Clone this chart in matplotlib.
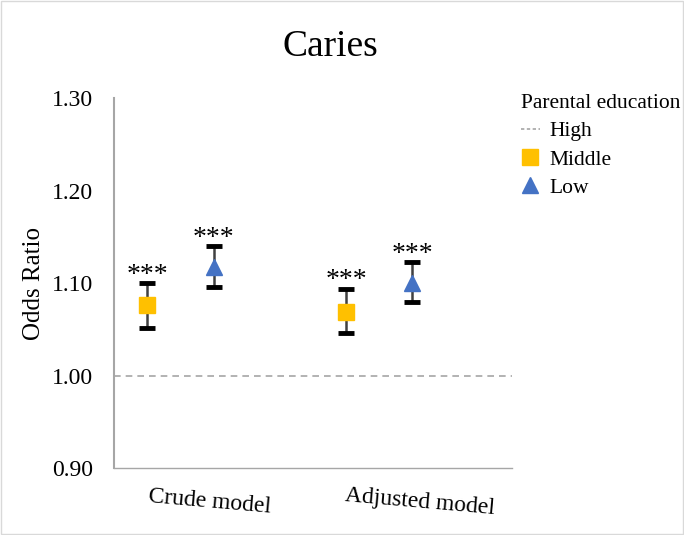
import numpy as np
import matplotlib.pyplot as plt
import matplotlib.transforms as mtransforms
from matplotlib.lines import Line2D
from matplotlib.patches import Rectangle

plt.rcParams['font.family'] = ['Liberation Serif', 'DejaVu Serif']

# ================== DATA ==================
models = ["Crude model", "Adjusted model"]
middle_or = [1.076, 1.069]
middle_lo = [1.051, 1.046]
middle_hi = [1.100, 1.094]
low_or = [1.117, 1.100]
low_lo = [1.096, 1.079]
low_hi = [1.140, 1.123]
reference = 1.00
yticks = [0.90, 1.00, 1.10, 1.20, 1.30]

ORANGE = "#FFC000"
BLUE = "#4472C4"

fig = plt.figure(figsize=(6.84, 5.35), dpi=100)
ax = fig.add_axes([0.1667, 0.1252, 0.5818, 0.6916])

x = np.arange(len(models))
off_mid = -1 / 3
off_low = 0.0

ax.axhline(reference, color="#A6A6A6", linestyle=(0, (4, 3)), linewidth=1.2, zorder=1)

def draw(xs, vals, lo, hi, color, marker, size):
    vals = np.array(vals)
    err = [vals - np.array(lo), np.array(hi) - vals]
    ax.errorbar(xs, vals, yerr=err, fmt="none", ecolor="#404040", elinewidth=1.8,
                capsize=0, zorder=2)
    for cap_x, h, l in zip(xs, hi, lo):
        ax.plot([cap_x, cap_x], [h, l], linestyle="none", marker="_", color="black",
                markersize=11, mew=3.5, zorder=3)
    ax.plot(xs, vals, linestyle="none", marker=marker, color=color, markersize=size, zorder=4)
    for px, h in zip(xs, hi):
        ax.annotate("***", (px, h), xytext=(0, 5.5), textcoords="offset points",
                    ha="center", va="center", fontsize=20)

draw(x + off_mid, middle_or, middle_lo, middle_hi, ORANGE, "s", 12)
draw(x + off_low, low_or, low_lo, low_hi, BLUE, "^", 11.5)

ax.set_xlim(-0.5, 1.5)
ax.set_ylim(0.90, 1.30)
ax.set_yticks(yticks)
ax.set_yticklabels([f"{v:.2f}" for v in yticks], fontsize=17)
ax.set_xticks(x)
ax.set_xticklabels(models, fontsize=17, rotation=-5, rotation_mode="anchor", ha="center")
ax.tick_params(axis="y", length=0, pad=15)
ax.tick_params(axis="x", length=0, pad=17)
ax.set_ylabel("Odds Ratio", fontsize=18, labelpad=5)

# nudge the category labels the way the original sits
for lbl, dx in zip(ax.get_xticklabels(), [-3, 8]):
    lbl.set_transform(lbl.get_transform() +
                      mtransforms.ScaledTranslation(dx / 100, 0, fig.dpi_scale_trans))

for side in ["top", "right"]:
    ax.spines[side].set_visible(False)
ax.spines["left"].set_color("#A6A6A6")
ax.spines["bottom"].set_color("#A6A6A6")
ax.spines["left"].set_linewidth(1.5)
ax.spines["bottom"].set_linewidth(1.0)

fig.text(0.483, 0.912, "Caries", ha="center", va="center", fontsize=27)

handles = [
    Line2D([0], [0], color="#A6A6A6", linestyle=(0, (2, 1.5)), linewidth=1.2),
    Line2D([0], [0], color=ORANGE, marker="s", linestyle="none", markersize=12),
    Line2D([0], [0], color=BLUE, marker="^", linestyle="none", markersize=12),
]
leg = fig.legend(handles, ["High", "Middle", "Low"], title="Parental education",
                 loc="upper left", bbox_to_anchor=(0.739, 0.852), frameon=False,
                 fontsize=15.5, title_fontsize=15.5, handlelength=0.9, handletextpad=0.45,
                 labelspacing=0.38, alignment="left", borderpad=0.2)

fig.patches.append(Rectangle((0.002, 0.002), 0.996, 0.996, transform=fig.transFigure,
                             fill=False, edgecolor="#D9D9D9", linewidth=1))

fig.savefig("out.png", dpi=100)
